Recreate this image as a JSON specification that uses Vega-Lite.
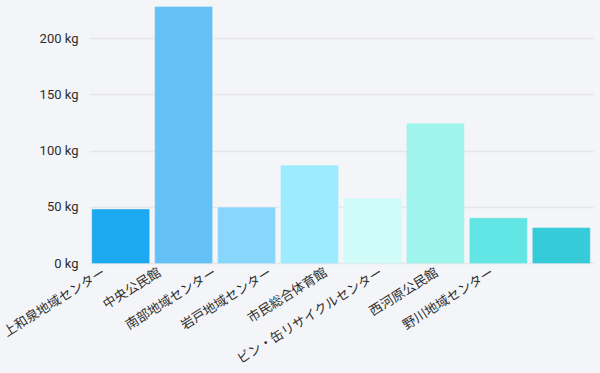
{
  "$schema": "https://vega.github.io/schema/vega-lite/v6.json",
  "width": 504,
  "height": 263,
  "autosize": {"type": "none"},
  "padding": {"left": 89, "top": 0, "right": 7, "bottom": 110},
  "background": "#F4F5F8",
  "config": {
    "view": {"stroke": null},
    "font": "Roboto, 'Noto Sans CJK JP'"
  },
  "data": {
    "values": [
      {"place": "上和泉地域センター", "kg": 47.5, "c": "#1CA9F0"},
      {"place": "中央公民館", "kg": 227.6, "c": "#64C1F8"},
      {"place": "南部地域センター", "kg": 49.2, "c": "#88D6FC"},
      {"place": "岩戸地域センター", "kg": 86.5, "c": "#9DEBFE"},
      {"place": "市民総合体育館", "kg": 57.2, "c": "#CFFBF9"},
      {"place": "ビン・缶リサイクルセンター", "kg": 123.8, "c": "#9FF5ED"},
      {"place": "西河原公民館", "kg": 39.7, "c": "#62E5E5"},
      {"place": "野川地域センター", "kg": 31.1, "c": "#36CBD9"}
    ]
  },
  "mark": {"type": "bar", "strokeWidth": 1, "strokeOpacity": 0.6},
  "encoding": {
    "x": {
      "field": "place",
      "type": "nominal",
      "sort": null,
      "scale": {"paddingInner": 0.095, "paddingOuter": 0.05},
      "axis": {
        "title": null,
        "ticks": false,
        "domain": false,
        "labelAngle": -32,
        "labelAlign": "right",
        "labelBaseline": "middle",
        "labelPadding": 8,
        "labelFontSize": 13,
        "labelColor": "#2E2E2E",
        "labelFont": "'Noto Sans CJK JP'",
        "labelOffset": {"expr": "-16.5 - 52.5 * datum.index"},
        "labelOverlap": false,
        "labelLimit": 300
      }
    },
    "y": {
      "field": "kg",
      "type": "quantitative",
      "scale": {"domain": [0, 233.8], "nice": false},
      "axis": {
        "title": null,
        "values": [0, 50, 100, 150, 200],
        "labelExpr": "datum.value + ' kg'",
        "ticks": false,
        "domain": false,
        "labelPadding": 11,
        "labelFontSize": 13,
        "labelColor": "#2E2E2E",
        "labelFont": "Roboto",
        "gridColor": "#E6E7EA",
        "gridWidth": 1.5
      }
    },
    "color": {"field": "c", "type": "nominal", "scale": null},
    "stroke": {"field": "c", "type": "nominal", "scale": null}
  }
}
